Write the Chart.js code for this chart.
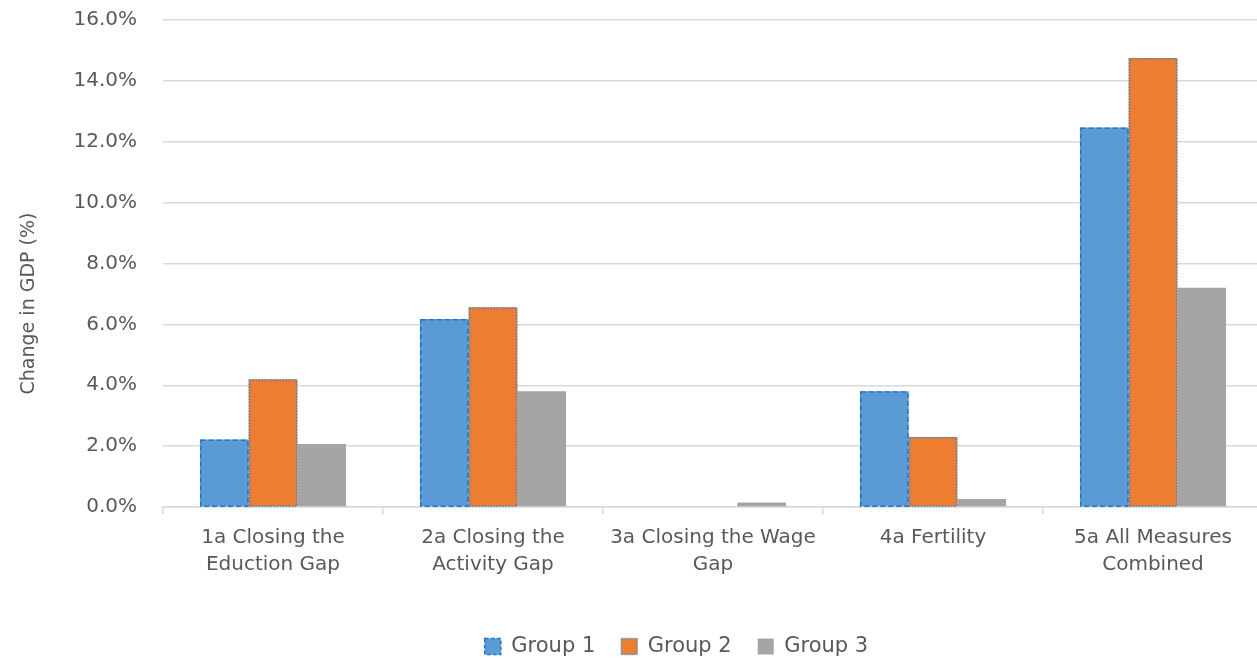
<!DOCTYPE html>
<html>
<head>
<meta charset="utf-8">
<script src="https://cdn.jsdelivr.net/npm/chart.js@4"></script>
<style>
html,body{margin:0;padding:0;background:#fff;overflow:hidden;}
#wrap{width:1270px;height:659px;position:relative;}
</style>
</head>
<body>
<div id="wrap"><canvas id="c" width="1270" height="659"></canvas></div>
<script>
const categories = [
  ["1a Closing the", "Eduction Gap"],
  ["2a Closing the", "Activity Gap"],
  ["3a Closing the Wage", "Gap"],
  ["4a Fertility"],
  ["5a All Measures", "Combined"]
];
const seriesNames = ["Group 1", "Group 2", "Group 3"];
const group1 = [2.22, 6.18, 0, 3.8, 12.47];
const group2 = [4.2, 6.56, 0, 2.3, 14.75];
const group3 = [2.07, 3.8, 0.15, 0.26, 7.2];
const yTicks = [0, 2, 4, 6, 8, 10, 12, 14, 16];

const FONT = "'DejaVu Sans', 'Open Sans', sans-serif";
const TXT = '#595959';
const GRID = '#D9D9D9';
const LEGEND_SHIFT = 45;
const YTITLE_SHIFT = 40;

const dashedBorder = {
  id: 'dashedBorder',
  afterLayout(chart) {
    const lg = chart.legend;
    if (lg) { lg.left += LEGEND_SHIFT; lg.right += LEGEND_SHIFT; }
    const y = chart.scales.y;
    if (y) { y.bottom += 2 * YTITLE_SHIFT; }
  },
  afterDatasetsDraw(chart) {
    const ctx = chart.ctx;
    chart.data.datasets.forEach((ds, i) => {
      if (!ds._dash) return;
      const meta = chart.getDatasetMeta(i);
      ctx.save();
      ctx.strokeStyle = ds._dashColor;
      ctx.lineWidth = 1.5;
      ctx.setLineDash(ds._dash);
      meta.data.forEach(bar => {
        const p = bar.getProps(['x', 'y', 'base', 'width'], true);
        const h = p.base - p.y;
        if (h < 0.5) return;
        ctx.strokeRect(p.x - p.width / 2 + 0.75, p.y + 0.75, p.width - 1.5, h - 0.75);
      });
      ctx.restore();
    });
  }
};

new Chart(document.getElementById('c'), {
  type: 'bar',
  data: {
    labels: categories,
    datasets: [
      { label: seriesNames[0], data: group1, backgroundColor: '#5B9BD5', borderColor: '#2E75B6', borderWidth: 0,
        borderDash: [4, 2], _dash: [5, 3], _dashColor: '#1F77C8' },
      { label: seriesNames[1], data: group2, backgroundColor: '#ED7D31', borderColor: '#2E75B6', borderWidth: 0,
        borderDash: [1, 1], _dash: [1.5, 1.5], _dashColor: '#3A86C8' },
      { label: seriesNames[2], data: group3, backgroundColor: '#A5A5A5', borderWidth: 0 }
    ]
  },
  options: {
    responsive: false,
    animation: false,
    events: [],
    datasets: { bar: { categoryPercentage: 0.664, barPercentage: 1.0 } },
    layout: { padding: { top: 20, left: 0, right: 7, bottom: -8 } },
    plugins: {
      tooltip: { enabled: false },
      legend: {
        position: 'bottom',
        labels: {
          color: TXT,
          font: { family: FONT, size: 21 },
          boxWidth: 16, boxHeight: 16,
          padding: 26,
          generateLabels(chart) {
            const items = Chart.defaults.plugins.legend.labels.generateLabels(chart);
            items.forEach((it, i) => {
              const ds = chart.data.datasets[i];
              if (ds._dash) { it.lineWidth = 1.5; it.strokeStyle = ds._dashColor; it.lineDash = ds.borderDash; }
              else { it.lineWidth = 0; }
            });
            return items;
          }
        }
      }
    },
    scales: {
      x: {
        grid: { display: true, drawOnChartArea: false, offset: true, color: GRID, tickLength: 7, lineWidth: 1.5 },
        border: { color: GRID, width: 1.5 },
        ticks: { color: TXT, font: { family: FONT, size: 20, lineHeight: 1.35 }, maxRotation: 0, autoSkip: false, padding: 10 },
        afterFit(s) { s.height = 103; }
      },
      y: {
        min: 0, max: 16,
        afterBuildTicks(s) { s.ticks = yTicks.map(v => ({ value: v })); },
        grid: { color: GRID, lineWidth: 1.5, drawTicks: false },
        border: { display: false },
        ticks: { color: TXT, font: { family: FONT, size: 20 }, padding: 26,
          callback: v => Number(v).toFixed(1) + '%' },
        title: { display: true, text: 'Change in GDP (%)', color: TXT, font: { family: FONT, size: 19 }, padding: { top: 18, bottom: 0 } },
        afterFit(s) { s.width = 163; s.paddingTop = 12; s.paddingBottom = 12; }
      }
    }
  },
  plugins: [dashedBorder]
});
</script>
</body>
</html>
